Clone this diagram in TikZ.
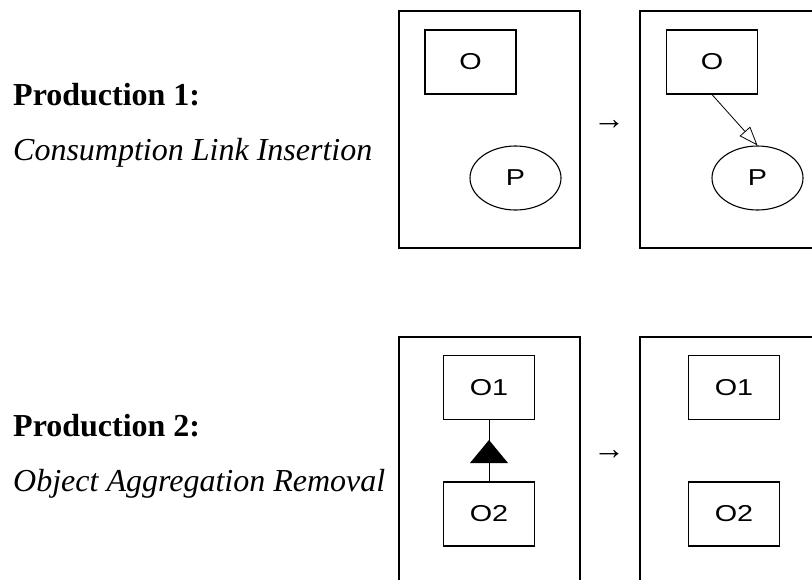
\documentclass[tikz,border=0pt]{standalone}
\usepackage{amsmath}
\usepackage{fontspec}
\setmainfont{Liberation Serif}
\setsansfont{Liberation Sans}
\usepackage{tikz}
\usetikzlibrary{shapes,arrows.meta}
\newcommand{\wide}[1]{\scalebox{1.25}[1]{#1}}

\begin{document}
\begin{tikzpicture}[x=1pt, y=-1pt,
  frame/.style = {draw, line width=2.6pt, rectangle,
    minimum width=181pt, minimum height=237pt, inner sep=0pt},
  obj/.style = {draw, line width=1.1pt, rectangle,
    minimum width=91pt, minimum height=64pt, inner sep=0pt,
    font=\sffamily\fontsize{23}{27}\selectfont},
  proc/.style = {obj, ellipse},
  title/.style = {anchor=base west, inner sep=0pt,
    font=\bfseries\fontsize{32}{38}\selectfont},
  prodname/.style = {anchor=base west, inner sep=0pt,
    font=\itshape\fontsize{32}{38}\selectfont},
  yields/.style = {inner sep=0pt, font=\fontsize{32}{38}\selectfont}]
  \clip (0,0) rectangle (812,579);

  % production 1
  \node[title] (t1) at (13,105) {Production 1:};
  \node[prodname] (n1) at (13,160) {Consumption Link Insertion};
  \node[frame] (lhs1) at (489.5,129.5) {};
  \node[frame] (rhs1) at (730.5,129.5) {};
  \node[obj] (o) at (470.5,62) {\wide{O}};
  \node[proc] (p) at (515.5,178) {\wide{P}};
  \node[yields] (y1) at (609,125) {→};
  \node[obj] (o') at (712,62) {\wide{O}};
  \node[proc] (p') at (757.5,178) {\wide{P}};
  \draw[line width=0.8pt, -{Triangle[open, length=19pt, width=14pt]}]
    (o'.south) -- (p'.north);

  % production 2
  \node[title] (t2) at (13,436) {Production 2:};
  \node[prodname] (n2) at (13,491) {Object Aggregation Removal};
  \node[frame, minimum height=270pt] (lhs2) at (489.5,472) {};
  \node[frame, minimum height=270pt] (rhs2) at (730.5,472) {};
  \node[obj] (o1) at (489,387.5) {\wide{O1}};
  \node[obj] (o2) at (489,514) {\wide{O2}};
  \draw[line width=0.8pt] (o2.north) -- (o1.south);
  \coordinate (agg) at (489,451.5);
  \fill (agg) +(0,-11.5) -- +(19,11.5) -- +(-19,11.5) -- cycle;
  \node[yields] (y2) at (609,455) {→};
  \node[obj] (o1') at (734,387.5) {\wide{O1}};
  \node[obj] (o2') at (734,514) {\wide{O2}};
\end{tikzpicture}
\end{document}
